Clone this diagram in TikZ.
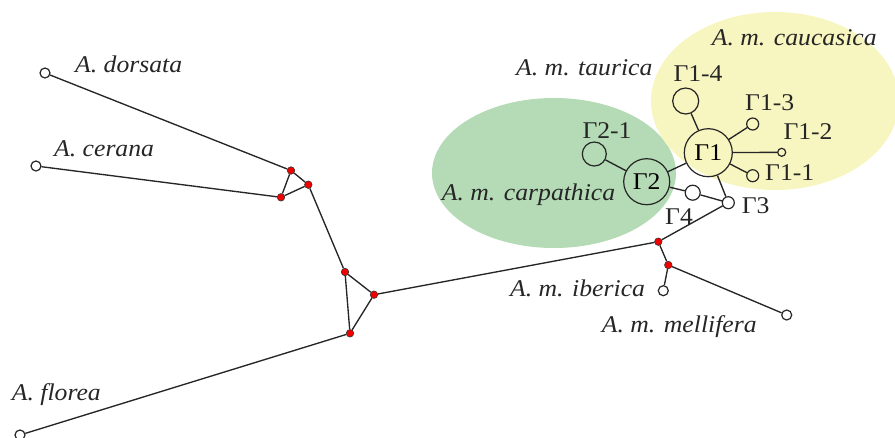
\documentclass[tikz,border=0pt]{standalone}
\usepackage{fontspec}
\setmainfont{Liberation Serif}[FakeStretch=1.07]
\definecolor{carpgreen}{RGB}{180,219,181}
\definecolor{caucyellow}{RGB}{248,246,192}
\begin{document}
\begin{tikzpicture}[x=1pt,y=-1pt,
  edge/.style={line width=1.35pt,black!85},
  hap/.style={circle,draw=black!85,line width=1.2pt,inner sep=0pt},
  junction/.style={circle,draw=black!80,line width=0.6pt,fill=red!95!black,inner sep=0pt,minimum size=7.5pt},
  taxon/.style={anchor=base west,inner sep=0pt,font=\fontsize{24}{28}\selectfont\itshape,text=black!85},
  hlabel/.style={anchor=base west,inner sep=0pt,font=\fontsize{24}{28}\selectfont,text=black!85}]
\useasboundingbox (0,0) rectangle (895,437);

% group areas
\fill[carpgreen] (554,173) ellipse [x radius=122,y radius=75];
\fill[caucyellow] (775,101) ellipse [x radius=124,y radius=89];

% outgroup species
\node[hap,minimum size=10pt] (dor) at (45,73) {};
\node[hap,minimum size=10pt] (cer) at (36,166) {};
\node[hap,minimum size=10pt] (flo) at (20,435) {};

% median vectors
\node[junction] (j1) at (291,170.5) {};
\node[junction] (j2) at (308.3,184.7) {};
\node[junction] (j3) at (281,197.3) {};
\node[junction] (j4) at (345,272) {};
\node[junction] (j5) at (374,294.7) {};
\node[junction] (j6) at (350,333.3) {};
\node[junction] (j7) at (658.3,241.7) {};
\node[junction] (j8) at (668.3,265) {};

% A. mellifera haplotypes
\node[hap,minimum size=10pt] (ibe) at (663.3,290.7) {};
\node[hap,minimum size=10pt] (mel) at (786.7,315) {};
\node[hap,minimum size=12pt] (g3) at (728.3,202.7) {};
\node[hap,minimum size=15pt] (g4) at (692.7,192.7) {};
\node[hap,minimum size=46pt,font=\fontsize{24}{28}\selectfont] (g2) at (646.7,181.7) {Γ2};
\node[hap,minimum size=24pt] (g21) at (594.3,154) {};
\node[hap,minimum size=48pt,font=\fontsize{24}{28}\selectfont] (g1) at (708.3,152.7) {Γ1};
\node[hap,minimum size=26pt] (g14) at (685.7,101) {};
\node[hap,minimum size=12pt] (g13) at (752.7,124) {};
\node[hap,minimum size=8pt] (g12) at (781.7,152.3) {};
\node[hap,minimum size=12pt] (g11) at (752.7,175.7) {};

% connections
\draw[edge] (dor) -- (j1);
\draw[edge] (cer) -- (j3);
\draw[edge] (j1) -- (j2) -- (j3) -- (j1);
\draw[edge] (j2) -- (j4);
\draw[edge] (j4) -- (j5) -- (j6) -- (j4);
\draw[edge] (j6) -- (flo);
\draw[edge] (j5) -- (j7);
\draw[edge] (j7) -- (g3);
\draw[edge] (j7) -- (j8);
\draw[edge] (j8) -- (ibe);
\draw[edge] (j8) -- (mel);
\draw[edge] (g3) -- (g4);
\draw[edge] (g4) -- (g2);
\draw[edge] (g3) -- (g1);
\draw[edge] (g2) -- (g1);
\draw[edge] (g2) -- (g21);
\draw[edge] (g1) -- (g14);
\draw[edge] (g1) -- (g13);
\draw[edge] (g1) -- (g12);
\draw[edge] (g1) -- (g11);

% labels
\node[taxon] (tdor) at (75,72.3) {A. dorsata};
\node[taxon] (tcer) at (54,156.7) {A. cerana};
\node[taxon] (tflo) at (11.7,400) {A. florea};
\node[taxon] (tcau) at (711.7,45.7) {A. m. caucasica};
\node[taxon] (ttau) at (516,75) {A. m. taurica};
\node[taxon] (tcar) at (441.7,200) {A. m. carpathica};
\node[taxon] (tibe) at (510,296) {A. m. iberica};
\node[taxon] (tmel) at (601.7,332.7) {A. m. mellifera};
\node[hlabel] (l14) at (673.3,81.7) {Γ1-4};
\node[hlabel] (l13) at (745,110.7) {Γ1-3};
\node[hlabel] (l12) at (783.3,139.3) {Γ1-2};
\node[hlabel] (l11) at (765,180) {Γ1-1};
\node[hlabel] (l21) at (582.3,138.3) {Γ2-1};
\node[hlabel] (l3) at (741.7,213.3) {Γ3};
\node[hlabel] (l4) at (665,224) {Γ4};
\end{tikzpicture}
\end{document}
